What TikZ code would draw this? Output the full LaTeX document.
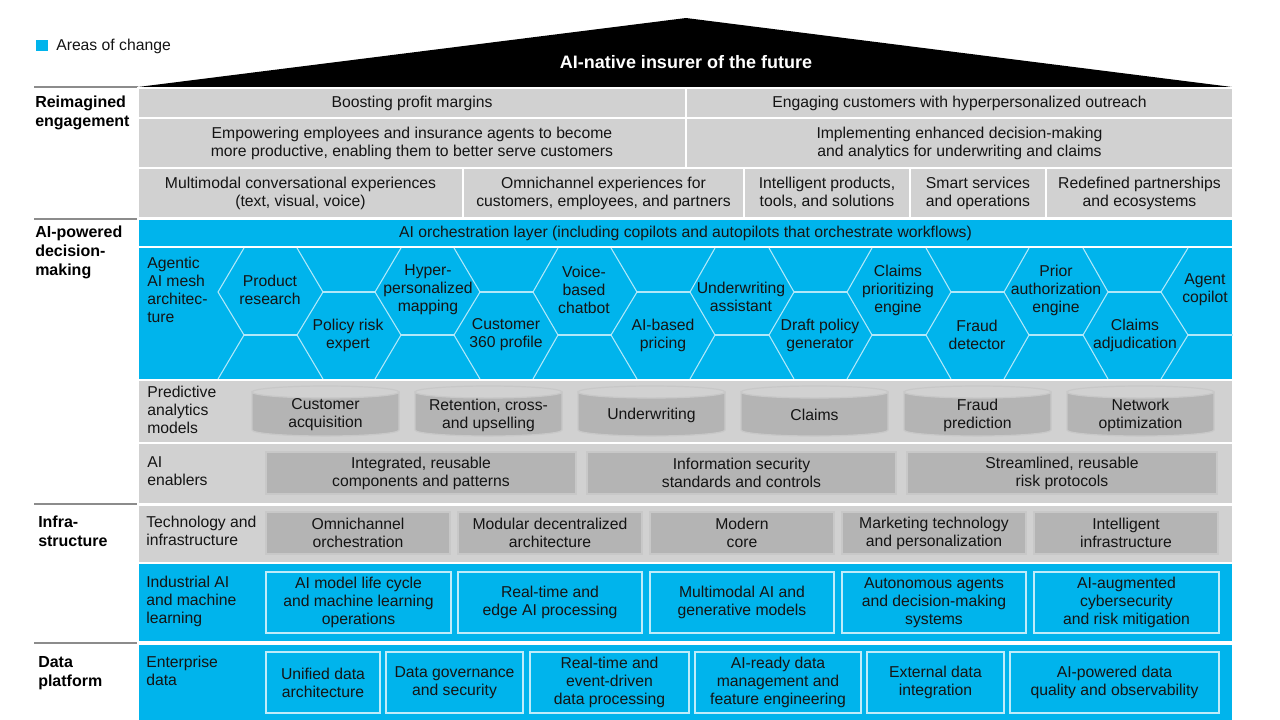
\documentclass[tikz,border=0pt]{standalone}
\usepackage{fontspec}
\setmainfont{Liberation Sans}
\begin{document}
\begin{tikzpicture}[x=0.75pt,y=-0.75pt,
  txt/.style={font=\fontsize{11.8}{13.5}\selectfont,text=black!92,align=center,inner sep=0pt},
  ltxt/.style={font=\fontsize{11.8}{13.5}\selectfont,text=black!92,align=left,inner sep=0pt,anchor=north west},
  sec/.style={font=\bfseries\fontsize{12}{14.2}\selectfont,text=black,align=left,inner sep=0pt,anchor=north west},
  gcell/.style={fill=lgray,draw=white,line width=1.5pt},
  bcell/.style={fill=mblue,draw=white,line width=1.5pt},
  gbox/.style={fill=dgray,draw=bgray,line width=1pt},
  bbox/.style={fill=mblue,draw=white!75!mblue,line width=0.9pt},
  hexl/.style={draw=white!70!mblue,line width=0.8pt},
  sepl/.style={draw=black!45,line width=1pt}]
\definecolor{mblue}{RGB}{0,180,236}
\definecolor{lgray}{RGB}{209,209,209}
\definecolor{dgray}{RGB}{180,180,180}
\definecolor{bgray}{RGB}{200,200,200}
\useasboundingbox (0,0) rectangle (1280,719);
\fill[white] (0,0) rectangle (1280,719);
\newcommand{\mycell}[7]{\draw[#6] (#2,#3) rectangle (#4,#5); \node[txt] (#1) at ({(#2+#4)/2},{(#3+#5)/2}) {#7};}
% legend
\fill[mblue] (36,40) rectangle (48,51);
\node[txt,anchor=west] (leg) at (56,46) {Areas of change};
% roof
\fill[black] (138,87) -- (686,18) -- (1232,87) -- cycle;
\node[font=\bfseries\fontsize{13.5}{16}\selectfont,text=white,inner sep=0pt] (title) at (686,62) {AI-native insurer of the future};
\foreach \yy in {87,219,504,643} \draw[sepl] (34,\yy) -- (138,\yy);
\node[sec] (s1) at (35,96) {Reimagined\\engagement};
\node[sec] (s2) at (35,226) {AI-powered\\decision-\\making};
\node[sec] (s3) at (38,516) {Infra-\\structure};
\node[sec] (s4) at (38,656) {Data\\platform};
% reimagined engagement
\mycell{r1}{138}{88}{686}{118}{gcell}{Boosting profit margins}
\mycell{r2}{686}{88}{1233}{118}{gcell}{Engaging customers with hyperpersonalized outreach}
\mycell{r3}{138}{118}{686}{168}{gcell}{Empowering employees and insurance agents to become\\more productive, enabling them to better serve customers}
\mycell{r4}{686}{118}{1233}{168}{gcell}{Implementing enhanced decision-making\\and analytics for underwriting and claims}
\mycell{r5}{138}{168}{463}{218}{gcell}{Multimodal conversational experiences\\(text, visual, voice)}
\mycell{r6}{463}{168}{744}{218}{gcell}{Omnichannel experiences for\\customers, employees, and partners}
\mycell{r7}{744}{168}{910}{218}{gcell}{Intelligent products,\\tools, and solutions}
\mycell{r8}{910}{168}{1046}{218}{gcell}{Smart services\\and operations}
\mycell{r9}{1046}{168}{1233}{218}{gcell}{Redefined partnerships\\and ecosystems}
\mycell{orch}{138}{219}{1233}{247}{bcell}{AI orchestration layer (including copilots and autopilots that orchestrate workflows)}
% hex band
\draw[bcell] (138,247) rectangle (1233,380);
\begin{scope}[hexl]
\foreach \a/\b in {244/218,297/323,401/375,454/480,558/533,611/637,715/690,769/794,872/847,926/951,1029/1004,1083/1108,1188/1161}
  \draw (\a,248) -- (\b,292) -- (\a,335) -- (\b,379);
\foreach \p/\q in {323/375,480/533,637/690,794/847,951/1004,1108/1161} \draw (\p,292) -- (\q,292);
\foreach \p/\q in {244/297,401/454,558/611,715/769,872/926,1029/1083,1188/1233} \draw (\p,335) -- (\q,335);
\end{scope}
\node[ltxt] (h0) at (147,257) {Agentic\\AI mesh\\architec-\\ture};
\node[txt] (h1) at (270,290) {Product\\research};
\node[txt] (h2) at (348,335) {Policy risk\\expert};
\node[txt] (h3) at (428,290) {Hyper-\\personalized\\mapping};
\node[txt] (h4) at (506,335) {Customer\\360 profile};
\node[txt] (h5) at (584,290) {Voice-\\based\\chatbot};
\node[txt] (h6) at (663,335) {AI-based\\pricing};
\node[txt] (h7) at (741,297) {Underwriting\\assistant};
\node[txt] (h8) at (820,335) {Draft policy\\generator};
\node[txt] (h9) at (898,290) {Claims\\prioritizing\\engine};
\node[txt] (h10) at (977,335) {Fraud\\detector};
\node[txt] (h11) at (1056,290) {Prior\\authorization\\engine};
\node[txt] (h12) at (1135,335) {Claims\\adjudication};
\node[txt] (h13) at (1205,290) {Agent\\copilot};
% predictive analytics
\draw[gcell] (138,380) rectangle (1233,443);
\node[ltxt] (pa) at (147,386) {Predictive\\analytics\\models};
\foreach \x/\t [count=\i] in {252/{Customer\\acquisition},415/{Retention, cross-\\and upselling},578/{Underwriting},741/{Claims},904/{Fraud\\prediction},1067/{Network\\optimization}}{
  \draw[fill=dgray,draw=bgray,line width=0.9pt] (\x,392) -- (\x,430) arc[start angle=180,end angle=0,x radius=73.5,y radius=6] -- (\x+147,392) arc[start angle=0,end angle=180,x radius=73.5,y radius=6] -- cycle;
  \draw[bgray,line width=0.9pt] (\x,392) arc[start angle=180,end angle=360,x radius=73.5,y radius=6];
  \node[txt] (cyl\i) at (\x+73.5,415) {\t};
}
% AI enablers
\draw[gcell] (138,443) rectangle (1233,504);
\node[ltxt] (en) at (147,456) {AI\\enablers};
\mycell{e1}{266}{452}{576}{494}{gbox}{Integrated, reusable\\components and patterns}
\mycell{e2}{587}{452}{896}{494}{gbox}{Information security\\standards and controls}
\mycell{e3}{907}{452}{1217}{494}{gbox}{Streamlined, reusable\\risk protocols}
% technology
\draw[gcell] (138,505) rectangle (1233,563);
\node[ltxt] (te) at (146,516) {Technology and\\infrastructure};
\mycell{t1}{266}{512}{450}{554}{gbox}{Omnichannel\\orchestration}
\mycell{t2}{458}{512}{642}{554}{gbox}{Modular decentralized\\architecture}
\mycell{t3}{650}{512}{834}{554}{gbox}{Modern\\core}
\mycell{t4}{842}{512}{1026}{554}{gbox}{Marketing technology\\and personalization}
\mycell{t5}{1034}{512}{1218}{554}{gbox}{Intelligent\\infrastructure}
% industrial AI
\draw[bcell] (138,563) rectangle (1233,642);
\node[ltxt] (ia) at (146,576) {Industrial AI\\and machine\\learning};
\mycell{i1}{266}{572}{451}{633}{bbox}{AI model life cycle\\and machine learning\\operations}
\mycell{i2}{458}{572}{642}{633}{bbox}{Real-time and\\edge AI processing}
\mycell{i3}{650}{572}{834}{633}{bbox}{Multimodal AI and\\generative models}
\mycell{i4}{842}{572}{1026}{633}{bbox}{Autonomous agents\\and decision-making\\systems}
\mycell{i5}{1034}{572}{1219}{633}{bbox}{AI-augmented\\cybersecurity\\and risk mitigation}
% enterprise data
\draw[bcell] (138,644) rectangle (1233,721);
\node[ltxt] (ed) at (146,656) {Enterprise\\data};
\mycell{d1}{266}{652}{380}{713}{bbox}{Unified data\\architecture}
\mycell{d2}{386}{652}{523}{713}{bbox}{Data governance\\and security}
\mycell{d3}{530}{652}{689}{713}{bbox}{Real-time and\\event-driven\\data processing}
\mycell{d4}{695}{652}{861}{713}{bbox}{AI-ready data\\management and\\feature engineering}
\mycell{d5}{867}{652}{1004}{713}{bbox}{External data\\integration}
\mycell{d6}{1010}{652}{1219}{713}{bbox}{AI-powered data\\quality and observability}
\end{tikzpicture}
\end{document}
